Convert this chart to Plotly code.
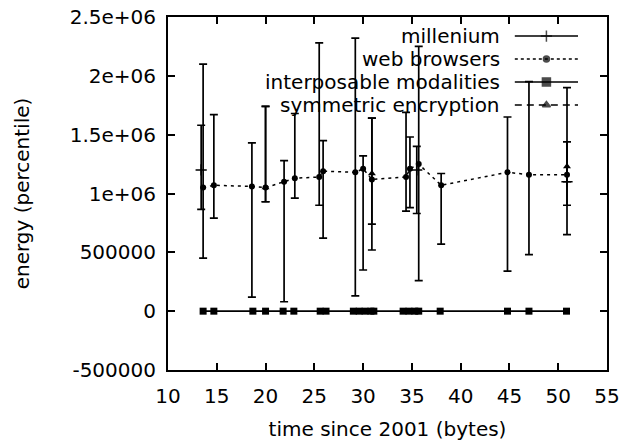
import plotly.graph_objects as go

# ---------------- data ----------------
web_x = [13.6, 14.7, 18.6, 20.0, 21.9, 23.0, 25.5, 25.9, 29.2, 30.0, 30.9, 34.4, 34.8, 35.7, 38.0, 44.8, 47.0, 50.9]
web_y = [1.05e6, 1.07e6, 1.06e6, 1.05e6, 1.10e6, 1.13e6, 1.14e6, 1.19e6, 1.18e6, 1.21e6, 1.12e6, 1.14e6, 1.21e6, 1.25e6, 1.07e6, 1.18e6, 1.16e6, 1.16e6]
web_lo = [0.45e6, 0.79e6, 0.12e6, 0.93e6, 0.08e6, 0.96e6, 0.90e6, 0.62e6, 0.13e6, 0.35e6, 0.52e6, 0.85e6, 0.88e6, 0.26e6, 0.57e6, 0.34e6, 0.48e6, 0.65e6]
web_hi = [2.10e6, 1.67e6, 1.43e6, 1.74e6, 1.28e6, 1.68e6, 2.28e6, 1.45e6, 2.32e6, 1.32e6, 1.64e6, 1.69e6, 1.48e6, 2.25e6, 1.17e6, 1.65e6, 1.95e6, 1.90e6]

mil_x = [13.4, 35.5, 50.9]
mil_y = [1.20e6, 1.20e6, 1.10e6]
mil_lo = [0.865e6, 0.83e6, 0.90e6]
mil_hi = [1.58e6, 1.40e6, 1.44e6]

sym_x = [20.0, 30.9, 50.9]
sym_y = [1.05e6, 1.17e6, 1.23e6]
sym_lo = [0.93e6, 0.74e6, 1.10e6]
sym_hi = [1.74e6, 1.64e6, 1.44e6]

int_x = [13.6, 14.7, 18.7, 20.0, 21.8, 22.9, 25.6, 26.2, 29.0, 29.6, 30.2, 30.8, 31.1, 34.1, 34.7, 35.3, 35.7, 37.9, 44.8, 47.0, 50.85]
int_y = [0] * len(int_x)

series_names = ["millenium", "web browsers", "interposable modalities", "symmetric encryption"]

x_ticks = [10, 15, 20, 25, 30, 35, 40, 45, 50, 55]
y_ticks = [-500000, 0, 500000, 1000000, 1500000, 2000000, 2500000]
y_tick_labels = ["-500000", "0", "500000", "1e+06", "1.5e+06", "2e+06", "2.5e+06"]

FONT = "DejaVu Sans"
BLACK = "#000000"


def err(y, lo, hi):
    return dict(type="data", symmetric=False,
                array=[h - v for v, h in zip(y, hi)],
                arrayminus=[v - l for v, l in zip(y, lo)],
                color=BLACK, thickness=1.7, width=4)


fig = go.Figure()

# interposable modalities (solid line, filled squares, at zero)
fig.add_trace(go.Scatter(x=int_x, y=int_y, mode="lines+markers",
                         line=dict(color=BLACK, width=1.7),
                         marker=dict(symbol="square", size=7, color=BLACK),
                         showlegend=False))
# web browsers (dotted line with error bars)
fig.add_trace(go.Scatter(x=web_x, y=web_y, mode="lines+markers",
                         line=dict(color=BLACK, width=1.5, dash="3px,4px"),
                         marker=dict(symbol="circle", size=6, color=BLACK),
                         error_y=err(web_y, web_lo, web_hi),
                         showlegend=False))
# symmetric encryption
fig.add_trace(go.Scatter(x=sym_x, y=sym_y, mode="markers",
                         marker=dict(symbol="triangle-up", size=7, color=BLACK),
                         error_y=err(sym_y, sym_lo, sym_hi),
                         showlegend=False))
# millenium
fig.add_trace(go.Scatter(x=mil_x, y=mil_y, mode="markers",
                         marker=dict(symbol="cross-thin-open", size=8, color=BLACK,
                                     line=dict(color=BLACK, width=1.5)),
                         error_y=err(mil_y, mil_lo, mil_hi),
                         showlegend=False))

# ---------------- gnuplot-style key (text left, sample right) ----------------
key_rows = [0.946, 0.881, 0.816, 0.751]
key_text_x = 0.761
key_x0, key_xm, key_x1 = 0.790, 0.862, 0.934
key_styles = [
    dict(dash="solid", symbol="cross-thin-open", size=8),
    dict(dash="3px,3px", symbol="circle", size=6),
    dict(dash="solid", symbol="square", size=8),
    dict(dash="7px,5px", symbol="triangle-up", size=7),
]
for name, ry, st in zip(series_names, key_rows, key_styles):
    fig.add_trace(go.Scatter(
        x=[key_x0, key_xm, key_x1], y=[ry, ry, ry], xaxis="x2", yaxis="y2",
        mode="lines+markers",
        line=dict(color=BLACK, width=1.5, dash=st["dash"]),
        marker=dict(symbol=st["symbol"], size=[0, st["size"], 0], color=BLACK,
                    line=dict(color=BLACK, width=1.5)),
        showlegend=False, hoverinfo="skip"))
    fig.add_annotation(x=key_text_x, y=ry, xref="paper", yref="paper",
                       text=name, showarrow=False, xanchor="right", yanchor="middle",
                       font=dict(family=FONT, size=20, color=BLACK))

axis_common = dict(showline=True, linecolor=BLACK, linewidth=2, mirror="ticks",
                   ticks="inside", ticklen=7, tickwidth=1.5, tickcolor=BLACK,
                   showgrid=False, zeroline=False,
                   tickfont=dict(family=FONT, size=20, color=BLACK))

fig.update_layout(
    width=624, height=441,
    margin=dict(l=168, r=17, t=17, b=71, autoexpand=False),
    paper_bgcolor="white", plot_bgcolor="white",
    font=dict(family=FONT, size=20, color=BLACK),
    showlegend=False,
    xaxis=dict(range=[10, 55], tickvals=x_ticks, ticktext=[str(v) for v in x_ticks],
               title=dict(text="time since 2001 (bytes)", standoff=18,
                          font=dict(family=FONT, size=20, color=BLACK)),
               ticklabelstandoff=7, automargin=False, **axis_common),
    yaxis=dict(range=[-500000, 2500000], tickvals=y_ticks, ticktext=y_tick_labels,
               title=dict(text="energy (percentile)", standoff=35,
                          font=dict(family=FONT, size=20, color=BLACK)),
               ticklabelstandoff=6, automargin=False, **axis_common),
    xaxis2=dict(range=[0, 1], overlaying="x", visible=False, fixedrange=True),
    yaxis2=dict(range=[0, 1], overlaying="y", visible=False, fixedrange=True),
)

fig.write_html("out.html")
